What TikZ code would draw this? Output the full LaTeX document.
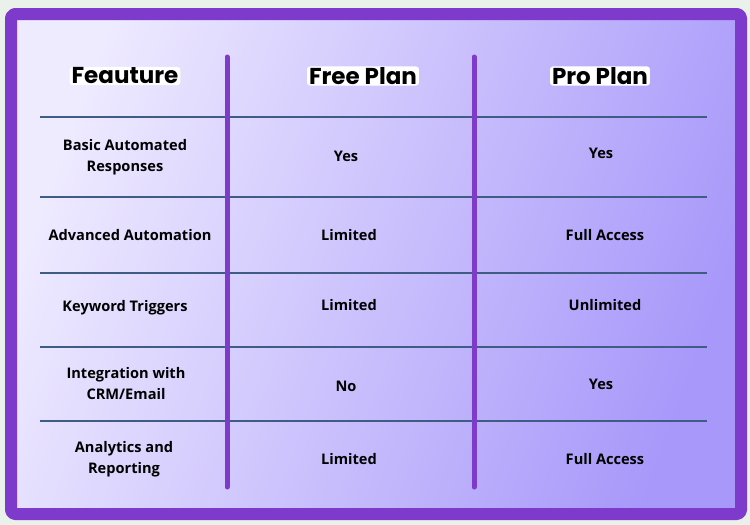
\documentclass[tikz,border=0pt]{standalone}
\usepackage{fontspec}
\setmainfont{Open Sans}
\newfontfamily\headfont{Poppins}
\begin{document}
\begin{tikzpicture}[x=1pt,y=-1pt,
  cell/.style={font=\bfseries\fontsize{14.6}{21}\selectfont,align=center,text=black},
  head/.style={font=\headfont\bfseries\fontsize{23}{24}\selectfont,fill=white,rounded corners=3pt,inner xsep=2pt,inner ysep=1pt},
  vline/.style={draw=frame,line width=5pt,line cap=round},
  hline/.style={draw=rule,line width=2.2pt}]
\definecolor{frame}{HTML}{7E3ACB}
\definecolor{rule}{HTML}{3F5C85}
\definecolor{bg}{HTML}{EAF0EA}
\useasboundingbox (0,0) rectangle (750,525);
\fill[bg] (0,0) rectangle (750,525);
\shade[left color={rgb,255:red,238;green,234;blue,255},right color={rgb,255:red,168;green,152;blue,250},shading angle=70] (11,14) rectangle (741,514);
\draw[frame,line width=12pt,line join=round,rounded corners=4pt] (11,14) rectangle (741,514);
\coordinate (v1t) at (227,57); \coordinate (v1b) at (227,487);
\coordinate (v2t) at (474,57); \coordinate (v2b) at (474,487);
\foreach \y [count=\i] in {117,197,273,347,421}{
  \coordinate (hl\i) at (40,\y); \coordinate (hr\i) at (707,\y);
  \draw[hline] (hl\i) -- (hr\i);}
\draw[vline] (v1t) -- (v1b);
\draw[vline] (v2t) -- (v2b);
\node[head] (h1) at (125,76) {Feauture};
\node[head] (h2) at (363,76) {Free Plan};
\node[head] (h3) at (600,76) {Pro Plan};
\node[cell] (a1) at (125,157) {Basic Automated\\Responses};
\node[cell] (b1) at (346,156) {Yes};
\node[cell] (c1) at (601,153) {Yes};
\node[cell] (a2) at (130,235) {Advanced Automation};
\node[cell] (b2) at (349,235) {Limited};
\node[cell] (c2) at (605,235) {Full Access};
\node[cell] (a3) at (125,308) {Keyword Triggers};
\node[cell] (b3) at (349,305) {Limited};
\node[cell] (c3) at (605,305) {Unlimited};
\node[cell] (a4) at (126,384) {Integration with\\CRM/Email};
\node[cell] (b4) at (346,386) {No};
\node[cell] (c4) at (601,384) {Yes};
\node[cell] (a5) at (124,459) {Analytics and\\Reporting};
\node[cell] (b5) at (349,459) {Limited};
\node[cell] (c5) at (605,459) {Full Access};
\end{tikzpicture}
\end{document}
